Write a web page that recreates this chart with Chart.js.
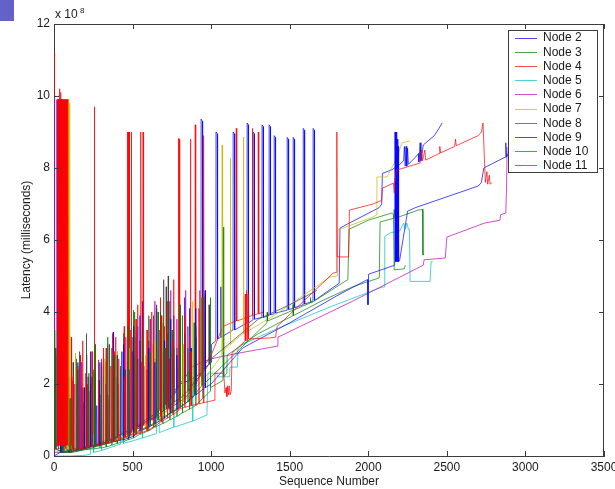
<!DOCTYPE html>
<html>
<head>
<meta charset="utf-8">
<script src="https://cdn.jsdelivr.net/npm/chart.js@4.4.0/dist/chart.umd.min.js"></script>
<style>
  html, body { margin: 0; padding: 0; background: #fff; }
</style>
</head>
<body>
<canvas id="myChart" width="615" height="489"></canvas>
<script>
// latency values are in units of 10^8 ms (axis shows "x 10^8")
const seqTicks = [0, 500, 1000, 1500, 2000, 2500, 3000, 3500];
const latTicks = [0, 2, 4, 6, 8, 10, 12];
const nodeNames = ["Node 2", "Node 3", "Node 4", "Node 5", "Node 6", "Node 7", "Node 8", "Node 9", "Node 10", "Node 11"];
const nodeColors = ["0,0,255", "0,128,0", "255,0,0", "0,191,191", "191,0,191", "191,191,0", "64,64,64", "0,0,255", "0,128,0", "255,0,0"];

// [sequence number, latency]
const node2 = [[0,9.9],[2,0.2],[18,0.3],[19,9.9],[21,0.3],[23,9.9],[25,0.3],[27,9.9],[29,0.3],[31,9.9],[33,0.4],
  [60,0.3],[62,1.8],[64,0.3],[95,0.1],[97,2.2],[99,0.1],[120,0.2],[122,2.1],[124,0.2],[150,0.2],[152,2.6],[154,0.2],
  [185,0.2],[187,1.5],[189,0.2],[215,0.25],[217,1.9],[219,0.25],[240,0.3],[242,2.2],[244,0.3],[270,0.3],[272,1.4],[274,0.3],
  [300,0.35],[302,2.5],[304,0.35],[340,0.4],[342,1.7],[344,0.4],[375,0.5],[377,3.44],[379,0.5],[405,0.55],[407,2.0],[409,0.55],
  [430,0.6],[432,2.9],[434,0.6],[470,0.7],[472,2.3],[474,0.7],[520,0.8],[522,3.3],[524,0.8],[560,0.95],[562,4.3],[564,0.95],
  [600,1.05],[602,2.6],[604,1.05],[650,1.2],[652,4.1],[654,1.2],[690,1.35],[692,2.9],[694,1.35],[720,1.5],[722,3.4],[724,1.5],
  [760,1.7],[762,3.9],[764,1.7],[800,2.0],[802,2.8],[804,2.0],[830,2.05],[832,4.4],[834,2.05],[860,2.1],[862,4.1],[864,2.1],
  [900,2.2],[902,3.6],[904,2.2],[935,2.3],[936,9.36],[944,9.3],[946,2.4],[1000,2.6],[1002,3.1],
  [1030,3.2],[1031,9.0],[1039,8.95],[1041,3.25],[1060,3.3],[1062,4.7],[1064,3.3],
  [1139,3.5],[1140,9.0],[1148,8.95],[1150,3.5],[1228,3.7],[1229,9.25],[1236,9.2],[1238,3.7],
  [1266,3.78],[1267,9.0],[1274,8.95],[1276,3.8],[1323,3.85],[1324,9.2],[1331,9.15],[1333,3.85],
  [1368,3.9],[1369,9.2],[1376,9.15],[1378,3.92],[1400,3.95],[1401,8.9],[1408,8.85],[1410,3.97],
  [1483,4.05],[1484,8.85],[1491,8.8],[1493,4.07],[1521,4.1],[1522,8.85],[1529,8.8],[1531,4.12],
  [1585,4.2],[1586,9.1],[1593,9.05],[1595,4.22],[1648,4.3],[1649,9.1],[1656,9.05],[1658,4.32],
  [1815,4.8],[1820,6.33],[1870,6.45],[2070,6.9],[2085,7.0],[2090,7.85],[2150,7.95],[2200,8.1],
  [2225,8.2],[2230,8.6],[2235,8.05],[2240,8.6],[2245,8.05],[2250,8.55],[2255,8.1],
  [2300,8.3],[2320,8.4],[2322,8.17],[2330,8.7],[2335,8.2],[2350,8.64],[2420,8.9],[2450,9.1],[2470,9.25]];

const node3 = [[0,4.6],[1,0.1],[8,0.2],[10,2.8],[12,0.2],[40,0.2],[42,1.5],[44,0.2],
  [80,0.15],[82,2.4],[84,0.15],[110,0.1],[112,1.6],[114,0.1],[140,0.12],[142,2.0],[144,0.12],[170,0.15],[172,1.9],[174,0.15],
  [205,0.18],[207,2.8],[209,0.18],[250,0.2],[252,2.4],[254,0.2],[290,0.22],[292,1.7],[294,0.22],[330,0.25],[332,2.6],[334,0.25],
  [365,0.3],[367,3.0],[369,0.3],[400,0.35],[402,2.2],[404,0.35],[440,0.4],[442,3.4],[444,0.4],[470,0.45],[472,2.6],[474,0.45],
  [503,0.5],[505,4.05],[507,0.5],[545,0.6],[547,3.2],[549,0.6],[600,0.7],[602,3.9],[604,0.7],[640,0.8],[642,2.7],[644,0.8],
  [690,0.9],[692,3.7],[694,0.9],[735,1.0],[737,4.3],[739,1.0],[780,1.1],[782,3.0],[784,1.1],[815,1.2],[817,3.9],[819,1.2],
  [860,1.3],[862,2.5],[864,1.3],[900,1.4],[902,3.3],[904,1.4],[945,1.6],[947,4.0],[949,1.6],
  [993,1.8],[995,4.4],[997,1.9],[1075,2.1],[1077,6.36],[1080,2.2],
  [1100,2.3],[1102,2.8],[1300,3.4],[1500,3.85],[1520,3.9],[1522,4.2],[1524,3.9],[1700,4.3],[1900,4.7],
  [2030,4.89],[2070,4.95],[2075,6.5],[2160,6.6],[2165,6.85],[2170,6.6],[2316,6.83],[2345,6.85],[2348,5.58],[2352,5.6]];

const node4 = [[0,11.2],[1,0.4],[20,0.3],[22,9.9],[24,0.3],[26,9.9],[28,0.2],[30,9.9],[32,0.3],[34,9.9],[36,0.3],
  [38,10.2],[40,0.3],[42,9.9],[44,0.2],[46,9.9],[48,0.3],[50,9.9],[52,0.3],[54,9.9],[56,0.2],[58,9.9],
  [60,0.3],[62,9.9],[64,0.3],[66,9.9],[68,0.3],[70,9.9],[72,0.2],[74,9.9],[76,0.3],[78,9.9],[80,0.3],
  [82,9.9],[84,0.3],[86,9.9],[88,0.3],[90,9.9],[92,0.3],
  [108,0.3],[110,3.3],[112,0.3],[135,0.2],[137,2.0],[139,0.2],[165,0.2],[167,2.8],[169,0.2],[200,0.2],[202,2.3],[204,0.2],
  [228,0.25],[230,1.8],[232,0.25],[255,0.3],[257,9.7],[259,0.3],[285,0.3],[287,2.1],[289,0.3],[312,0.35],[314,3.0],[316,0.35],
  [340,0.38],[342,1.6],[344,0.38],[360,0.4],[362,2.5],[364,0.4],[390,0.45],[392,3.3],[394,0.45],[420,0.5],[422,2.2],[424,0.5],
  [445,0.55],[447,3.6],[449,0.55],[465,0.6],[467,9.0],[470,0.6],[472,9.0],[475,0.6],[478,9.0],[480,0.6],[490,0.65],[492,9.0],[494,0.65],
  [510,0.7],[512,2.8],[514,0.7],[530,0.75],[532,4.2],[534,0.75],[550,0.8],[552,9.0],[555,0.8],[565,0.85],[567,9.0],[570,0.85],
  [590,0.9],[592,2.4],[594,0.9],[620,1.0],[622,4.0],[624,1.0],[650,1.05],[652,3.0],[654,1.05],[675,1.1],[677,4.4],[679,1.1],
  [700,1.2],[702,3.6],[704,1.2],[730,1.3],[732,2.7],[734,1.3],[760,1.4],[762,4.9],[764,1.4],[795,1.5],[797,8.8],[800,1.5],
  [830,1.6],[832,3.5],[834,1.6],[866,1.8],[868,8.8],[871,1.8],[897,2.0],[899,9.2],[902,2.0],[925,2.2],[927,4.6],[929,2.2],
  [950,2.4],[952,8.9],[955,2.5],[1000,2.8],[1075,3.6],
  [1158,3.75],[1160,9.1],[1163,3.75],[1260,3.9],[1262,9.1],[1265,3.9],[1298,3.95],[1300,9.0],[1303,3.95],[1330,4.0]];

const node5 = [[0,0.0],[100,0.0],[200,0.02],[230,0.05],[232,0.6],[250,0.6],[252,0.1],[300,0.15],[302,1.0],[304,0.15],[400,0.3],
  [420,0.32],[422,0.8],[440,0.8],[442,0.35],[500,0.42],[560,0.5],[562,1.6],[564,0.5],[600,0.55],[650,0.62],[652,1.2],[668,1.2],[670,0.65],
  [700,0.7],[760,0.8],[762,2.0],[764,0.8],[800,0.85],[880,0.97],[882,2.2],[884,0.97],[900,1.0],[973,1.14],[980,2.3],[1037,2.3],[1040,2.2],[1118,2.2],[1120,2.47],
  [1168,2.47],[1171,3.0],[1200,3.1],[1400,3.5],[1756,4.14],[2075,4.67],[2100,4.7],[2105,6.1],[2140,6.2],
  [2200,6.25],[2225,6.47],[2235,6.3],[2245,6.47],[2255,6.3],[2262,6.3],[2266,4.85],[2393,4.85],[2400,5.4],[2410,5.4]];

const node6 = [[0,10.0],[1,0.1],[60,0.1],[62,2.5],[64,0.1],[95,0.1],[97,1.6],[99,0.1],[130,0.15],[132,2.0],[134,0.15],
  [170,0.2],[172,2.6],[174,0.2],[215,0.25],[217,2.2],[219,0.25],[255,0.3],[257,1.8],[259,0.3],
  [300,0.4],[302,2.7],[304,0.4],[340,0.45],[342,3.1],[344,0.45],[380,0.5],[382,2.9],[384,0.5],[420,0.6],[422,2.4],[424,0.6],
  [455,0.65],[457,3.3],[459,0.65],[495,0.75],[497,2.9],[499,0.75],[530,0.8],[532,3.6],[534,0.8],[570,0.9],[572,2.5],[574,0.9],
  [610,1.0],[612,3.8],[614,1.0],[640,1.15],[642,4.3],[644,1.15],[670,1.3],[672,3.5],[674,1.3],[705,1.45],[707,3.0],[709,1.45],
  [740,1.6],[742,4.6],[744,1.6],[780,1.9],[782,3.8],[784,1.9],[835,2.2],[837,4.6],[839,2.2],[860,2.35],[862,3.3],[864,2.35],
  [885,2.5],[1000,2.7],[1165,2.85],
  [1420,3.05],[1425,3.3],[1900,4.3],[2350,5.3],[2355,5.45],[2490,5.5],[2500,6.08],[2740,6.47],
  [2838,6.55],[2842,6.7],[2875,6.75],[2880,7.5],[2883,8.58]];

const node7 = [[0,0.1],[85,0.2],[87,9.9],[89,0.2],[91,9.9],[93,0.2],[95,9.9],[97,0.2],[99,9.8],[101,0.2],
  [134,0.2],[136,2.86],[138,0.2],[160,0.2],[162,2.5],[164,0.2],[190,0.2],[192,1.8],[194,0.2],[230,0.25],[232,2.2],[234,0.25],
  [280,0.3],[282,1.9],[284,0.3],[320,0.33],[322,2.7],[324,0.33],[350,0.35],[352,2.4],[354,0.35],[400,0.42],[402,2.9],[404,0.42],
  [440,0.48],[442,2.1],[444,0.48],[480,0.55],[482,3.0],[484,0.55],[520,0.62],[522,3.5],[524,0.62],[580,0.75],[582,2.8],[584,0.75],
  [640,0.9],[642,3.2],[644,0.9],[690,1.05],[692,3.9],[694,1.05],[750,1.25],[752,3.0],[754,1.25],[820,1.5],[822,3.1],[824,1.5],
  [880,1.8],[882,4.3],[884,1.8],[940,2.1],[942,3.5],[944,2.1],
  [1000,2.4],[1068,2.8],[1070,8.64],[1073,2.9],[1120,3.1],[1122,8.28],[1125,3.1],[1203,3.4],[1205,8.86],[1208,3.4],
  [1400,3.9],[1756,4.97],[1805,5.0],[1808,6.28],[2030,6.64],[2052,6.7],[2055,7.75],[2119,7.75],
  [2182,8.28],[2214,8.7],[2265,8.75]];

const node8 = [[0,0.2],[10,3.0],[12,0.2],[60,0.1],[62,2.2],[64,0.1],[120,0.2],[122,2.6],[124,0.2],[160,0.2],[162,2.9],[164,0.2],
  [204,0.25],[206,3.4],[208,0.25],[230,0.28],[232,2.0],[234,0.28],[260,0.3],[262,2.3],[264,0.3],[300,0.35],[302,2.6],[304,0.35],
  [350,0.42],[352,3.1],[354,0.42],[400,0.5],[402,2.8],[404,0.5],[450,0.6],[452,2.4],[454,0.6],[500,0.7],[502,3.3],[504,0.7],
  [530,0.8],[532,2.7],[534,0.8],[560,0.9],[562,3.6],[564,0.9],[600,1.0],[602,3.2],[604,1.0],[630,1.05],[632,3.9],[634,1.05],
  [650,1.1],[652,4.2],[654,1.1],[675,1.2],[677,4.0],[679,1.2],[695,1.25],[697,4.9],[699,1.25],[712,1.3],[714,4.7],[716,1.3],
  [725,1.35],[727,5.0],[729,1.35],[760,1.5],[762,3.0],[764,1.5],[800,1.6],[802,3.8],[804,1.6],[850,1.8],[852,3.6],[854,1.8],
  [900,2.1],[902,3.3],[904,2.1],[960,2.4],[962,4.5],[964,2.4],[985,2.55],[987,4.2],[989,2.55],
  [1000,2.7],[1300,3.8],[1500,4.2],[1673,4.6]];

const node9 = [[0,0],[40,0.1],[42,9.9],[44,0.1],[46,9.9],[48,0.1],[150,0.15],[152,2.4],[154,0.15],[190,0.2],[192,1.9],[194,0.2],
  [230,0.25],[232,2.9],[234,0.25],[290,0.3],[292,2.6],[294,0.3],[330,0.35],[332,2.0],[334,0.35],[380,0.4],[382,2.7],[384,0.4],
  [440,0.45],[442,3.1],[444,0.45],[475,0.5],[477,2.4],[479,0.5],[505,0.55],[507,3.6],[509,0.55],[545,0.7],[547,3.9],[549,0.7],
  [600,0.8],[602,3.0],[604,0.8],[640,0.9],[642,2.6],[644,0.9],[700,1.05],[702,3.2],[704,1.05],[740,1.2],[742,3.8],[744,1.2],
  [780,1.3],[782,2.8],[784,1.3],[830,1.45],[832,3.4],[834,1.45],[870,1.6],[872,3.0],[874,1.6],[900,1.7],[902,4.1],[904,1.7],
  [960,1.9],[962,4.6],[964,1.9],[1000,2.0],[1200,3.0],[1500,3.7],[1800,4.45],[1995,4.9],[1998,4.2],
  [2002,5.05],[2168,5.3],[2170,9.0],[2174,5.4],[2177,9.0],[2181,5.4],[2184,8.8],[2188,5.4],[2190,8.6],[2193,5.4],
  [2200,5.45],[2250,6.8],[2300,6.9],[2700,7.5],[2720,7.6],[2735,8.0],[2870,8.3],[2875,8.7],[2880,8.3],[2900,8.5]];

const node10 = [[0,0.2],[5,3.5],[7,0.2],[50,0.1],[52,2.0],[54,0.1],[100,0.1],[102,1.6],[104,0.1],[140,0.15],[142,2.7],[144,0.15],
  [180,0.18],[182,1.9],[184,0.18],[220,0.2],[222,2.3],[224,0.2],[260,0.25],[262,3.1],[264,0.25],[300,0.3],[302,2.2],[304,0.3],
  [340,0.35],[342,3.3],[344,0.35],[380,0.4],[382,2.8],[384,0.4],[420,0.45],[422,2.5],[424,0.45],[470,0.55],[472,3.6],[474,0.55],
  [510,0.65],[512,4.0],[514,0.65],[560,0.75],[562,3.3],[564,0.75],[610,0.85],[612,2.9],[614,0.85],[660,1.0],[662,4.0],[664,1.0],
  [700,1.1],[702,3.0],[704,1.1],[750,1.2],[752,3.5],[754,1.2],[800,1.35],[802,4.2],[804,1.35],[850,1.5],[852,3.0],[854,1.5],
  [890,1.7],[892,3.7],[894,1.7],[940,1.95],[942,4.4],[944,1.95],
  [1000,2.2],[1355,3.7],[1357,4.0],[1359,3.75],[1630,4.25],[1632,4.4],[1636,4.25],[1870,4.9],
  [1878,6.3],[2000,6.55],[2150,6.75],[2160,6.7],[2165,5.17],[2230,5.2],[2235,5.3]];

const node11 = [[0,0.2],[30,0.3],[32,9.9],[34,0.3],[36,9.9],[38,0.3],[40,9.9],[42,0.3],[44,10.1],[46,0.3],
  [48,9.9],[50,0.3],[52,9.9],[54,0.3],[56,9.9],[58,0.3],[60,9.9],[62,0.3],[64,9.9],[66,0.3],[68,9.9],
  [70,0.3],[72,9.9],[74,0.3],[76,9.9],[78,0.3],[80,9.9],[82,0.3],[84,9.9],[86,0.3],[88,9.9],[90,0.3],
  [120,0.15],[122,2.2],[124,0.15],[150,0.2],[152,2.5],[154,0.2],[180,0.2],[182,3.2],[184,0.2],[210,0.25],[212,2.0],[214,0.25],
  [240,0.28],[242,2.9],[244,0.28],[280,0.3],[282,2.67],[284,0.3],[330,0.35],[332,3.0],[334,0.35],[370,0.4],[372,3.4],[374,0.4],
  [410,0.45],[412,2.7],[414,0.45],[450,0.52],[452,2.2],[454,0.52],[485,0.58],[487,3.5],[489,0.58],[520,0.6],[522,3.8],[524,0.6],
  [555,0.65],[557,2.6],[559,0.65],[590,0.7],[592,3.5],[594,0.7],[630,0.8],[632,3.1],[634,0.8],[680,0.95],[682,3.9],[684,0.95],
  [720,1.05],[722,4.3],[724,1.05],[755,1.15],[757,3.2],[759,1.15],[790,1.25],[792,8.83],[795,1.3],[830,1.35],[832,3.9],[834,1.35],
  [870,1.4],[872,2.9],[874,1.4],[920,1.45],[922,4.1],[924,1.45],[950,1.48],[952,4.4],[954,1.48],
  [973,1.5],[1020,1.55],[1024,2.3],[1080,2.3],[1088,1.75],[1095,1.9],
  [1100,1.65],[1105,1.95],[1110,1.7],[1115,1.95],[1120,1.7],[1128,1.8],[1133,2.86],[1203,3.14],
  [1215,3.2],[1217,4.5],[1220,3.2],[1225,4.6],[1230,3.2],[1235,4.5],[1238,3.25],[1375,3.28],[1410,3.3],
  [1420,3.6],[1776,5.08],[1798,5.1],[1800,9.0],[1802,5.53],[1875,5.53],[1880,6.83],[2030,7.0],[2085,7.1],
  [2090,7.44],[2160,7.58],[2165,7.3],[2168,7.6],[2180,7.94],[2330,8.14],[2340,8.5],[2345,8.2],[2360,8.5],
  [2365,8.22],[2450,8.4],[2455,8.6],[2460,8.42],[2550,8.6],[2555,8.8],[2560,8.62],[2650,8.8],[2700,8.9],
  [2720,9.0],[2730,9.25],[2745,7.6],[2755,7.9],[2760,7.55],[2770,7.8],[2775,7.55],[2788,7.6]];

const series = [node2, node3, node4, node5, node6, node7, node8, node9, node10, node11];

const fontFamily = "'Liberation Sans', Arial, sans-serif";
const textColor = "#1a1a1a";
const axisColor = "#3c3c3c";

const datasets = series.map((pts, i) => ({
  label: nodeNames[i],
  data: pts.map(p => ({ x: p[0], y: p[1] })),
  borderColor: "rgba(" + nodeColors[i] + ",0.7)",
  borderWidth: 1,
  pointRadius: 0,
  showLine: true,
  fill: false,
  tension: 0,
  order: series.length - i,
}));

// box, inward ticks, exponent label and legend, matlab style
const matlabFrame = {
  id: "matlabFrame",
  afterDraw(chart) {
    const ctx = chart.ctx;
    const { left, right, top, bottom } = chart.chartArea;
    const xs = chart.scales.x, ys = chart.scales.y;
    ctx.save();
    ctx.strokeStyle = axisColor;
    ctx.lineWidth = 1;
    ctx.beginPath();
    ctx.moveTo(left, top + 0.5); ctx.lineTo(right, top + 0.5);
    ctx.moveTo(right - 0.5, top); ctx.lineTo(right - 0.5, bottom);
    seqTicks.forEach(v => {
      const px = Math.round(xs.getPixelForValue(v)) + 0.5;
      ctx.moveTo(px, bottom); ctx.lineTo(px, bottom - 5);
      ctx.moveTo(px, top); ctx.lineTo(px, top + 5);
    });
    latTicks.forEach(v => {
      const py = Math.round(ys.getPixelForValue(v)) + 0.5;
      ctx.moveTo(left, py); ctx.lineTo(left + 5, py);
      ctx.moveTo(right, py); ctx.lineTo(right - 5, py);
    });
    ctx.stroke();

    // exponent
    ctx.fillStyle = textColor;
    ctx.textBaseline = "middle";
    ctx.textAlign = "left";
    ctx.font = "12px " + fontFamily;
    ctx.fillText("x 10", left + 1, top - 9);
    ctx.font = "8px " + fontFamily;
    ctx.fillText("8", left + 26, top - 13);

    // legend
    const lx = 508.5, ly = 30.5, lw = 89, lh = 142;
    ctx.fillStyle = "#fff";
    ctx.fillRect(lx, ly, lw, lh);
    ctx.strokeStyle = axisColor;
    ctx.strokeRect(lx, ly, lw, lh);
    ctx.font = "12px " + fontFamily;
    chart.data.datasets.forEach((ds, i) => {
      const y = 37.5 + i * 14.2;
      ctx.strokeStyle = ds.borderColor;
      ctx.beginPath();
      ctx.moveTo(515, Math.round(y) + 0.5);
      ctx.lineTo(537, Math.round(y) + 0.5);
      ctx.stroke();
      ctx.fillStyle = textColor;
      ctx.fillText(ds.label, 543, y + 0.5);
    });

    // small blue tab in the corner
    ctx.fillStyle = "rgb(98,98,200)";
    ctx.fillRect(0, 0, 14, 21);
    ctx.restore();
  }
};

const ctx = document.querySelector("#myChart").getContext("2d");
const config = {
  type: "scatter",
  data: { datasets: datasets },
  options: {
    responsive: false,
    animation: false,
    layout: { padding: { left: 0, top: 24, right: 11, bottom: 0 } },
    plugins: { legend: { display: false }, tooltip: { enabled: false } },
    scales: {
      x: {
        type: "linear", min: 0, max: 3500,
        afterBuildTicks: s => { s.ticks = seqTicks.map(v => ({ value: v })); },
        afterFit: s => { s.height = 33; s.paddingLeft = 0; s.paddingRight = 0; },
        grid: { display: false, drawTicks: false, tickLength: 0 },
        border: { display: true, color: axisColor, width: 1 },
        ticks: { color: textColor, font: { family: fontFamily, size: 12 }, padding: 4, maxRotation: 0, autoSkip: false,
                 callback: v => String(v) },
        title: { display: true, text: "Sequence Number", color: textColor, font: { family: fontFamily, size: 12 }, padding: { top: 0, bottom: 0 } }
      },
      y: {
        type: "linear", min: 0, max: 12,
        afterBuildTicks: s => { s.ticks = latTicks.map(v => ({ value: v })); },
        afterFit: s => { s.width = 54; s.paddingTop = 0; s.paddingBottom = 0; },
        grid: { display: false, drawTicks: false, tickLength: 0 },
        border: { display: true, color: axisColor, width: 1 },
        ticks: { color: textColor, font: { family: fontFamily, size: 12 }, padding: 4, autoSkip: false,
                 callback: v => String(v) },
        title: { display: true, text: "Latency (milliseconds)", color: textColor, font: { family: fontFamily, size: 12 }, padding: { top: 19, bottom: 0 } }
      }
    }
  },
  plugins: [matlabFrame]
};

const myChart = new Chart(ctx, config);
</script>
</body>
</html>
